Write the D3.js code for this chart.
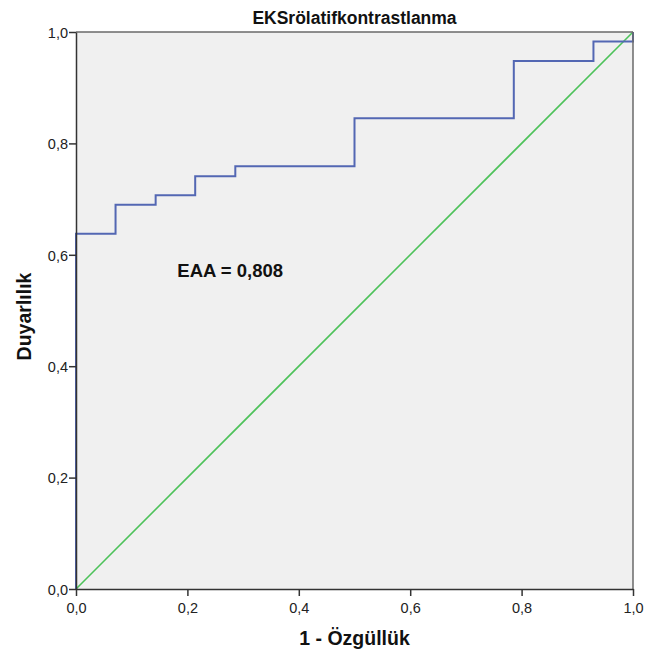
<!DOCTYPE html>
<html>
<head>
<meta charset="utf-8">
<script src="https://cdn.jsdelivr.net/npm/d3@7"></script>
<style>
  body { margin: 0; background: #fff; }
  text { font-family: "Liberation Sans", Arial, sans-serif; }
</style>
</head>
<body>
<div id="chart"></div>
<script>
// ROC curve data
const fpr = [0, 0, 0.071, 0.143, 0.214, 0.286, 0.5, 0.786, 0.929, 1];
const tpr = [0, 0.638, 0.690, 0.707, 0.741, 0.759, 0.845, 0.948, 0.983, 1];
const refX = [0, 1];
const refY = [0, 1];
const xTicks = [0, 0.2, 0.4, 0.6, 0.8, 1.0];
const yTicks = [0, 0.2, 0.4, 0.6, 0.8, 1.0];
const title = "EKSrölatifkontrastlanma";
const xTitle = "1 - Özgüllük";
const yTitle = "Duyarlılık";
const aucLabel = "EAA = 0,808";
const aucPos = [0.182, 0.56];

const W = 646, H = 662;
const margin = { top: 32, right: 13, bottom: 73, left: 76 };
const width = W - margin.left - margin.right;
const height = H - margin.top - margin.bottom;

const svg = d3.select("#chart").append("svg")
  .attr("width", W)
  .attr("height", H);

const g = svg.append("g")
  .attr("transform", "translate(" + margin.left + "," + margin.top + ")");

const x = d3.scaleLinear().domain([0, 1]).range([0, width]);
const y = d3.scaleLinear().domain([0, 1]).range([height, 0]);
const fmt = d => d3.format(".1f")(d).replace(".", ",");

g.append("rect")
  .attr("width", width)
  .attr("height", height)
  .attr("fill", "#f0f0f0");

// diagonal reference line
const ref = refX.map((v, i) => [v, refY[i]]);
g.append("path")
  .datum(ref)
  .attr("fill", "none")
  .attr("stroke", "#4dc25a")
  .attr("stroke-width", 1.6)
  .attr("d", d3.line().x(d => x(d[0])).y(d => y(d[1])));

// step curve
const roc = fpr.map((v, i) => [v, tpr[i]]);
g.append("path")
  .datum(roc)
  .attr("fill", "none")
  .attr("stroke", "#5367b3")
  .attr("stroke-width", 2)
  .attr("d", d3.line().curve(d3.curveStepAfter).x(d => x(d[0])).y(d => y(d[1])));

// frame top / right
g.append("line").attr("x1", 0).attr("x2", width).attr("y1", 0).attr("y2", 0)
  .attr("stroke", "#6a6a6a").attr("stroke-width", 1.5);
g.append("line").attr("x1", width).attr("x2", width).attr("y1", 0).attr("y2", height)
  .attr("stroke", "#6a6a6a").attr("stroke-width", 1.5);

const xAxis = g.append("g")
  .attr("transform", "translate(0," + height + ")")
  .call(d3.axisBottom(x).tickValues(xTicks).tickFormat(fmt).tickSize(7).tickSizeOuter(0));
const yAxis = g.append("g")
  .call(d3.axisLeft(y).tickValues(yTicks).tickFormat(fmt).tickSize(7).tickSizeOuter(0));

[xAxis, yAxis].forEach(a => {
  a.attr("font-size", null);
  a.select(".domain").attr("stroke", "#333").attr("stroke-width", 1.5);
  a.selectAll(".tick line").attr("stroke", "#333").attr("stroke-width", 1.5);
  a.selectAll(".tick text")
    .attr("fill", "#222")
    .attr("font-size", "14.5px")
    .style("font-family", "'Liberation Sans', Arial, sans-serif");
});
xAxis.selectAll(".tick text").attr("dy", "0").attr("y", 24);
yAxis.selectAll(".tick text").attr("x", -8).attr("dy", "0.36em");

g.append("text")
  .attr("x", x(aucPos[0]))
  .attr("y", y(aucPos[1]))
  .attr("font-size", "18.5px")
  .attr("font-weight", "bold")
  .attr("fill", "#111")
  .text(aucLabel);

svg.append("text")
  .attr("x", margin.left + width / 2)
  .attr("y", 24)
  .attr("text-anchor", "middle")
  .attr("font-size", "17.5px")
  .attr("font-weight", "bold")
  .attr("fill", "#111")
  .text(title);

svg.append("text")
  .attr("x", margin.left + width / 2)
  .attr("y", 645)
  .attr("text-anchor", "middle")
  .attr("font-size", "19.5px")
  .attr("font-weight", "bold")
  .attr("fill", "#111")
  .text(xTitle);

svg.append("text")
  .attr("transform", "translate(31," + (margin.top + height / 2 + 6) + ") rotate(-90)")
  .attr("text-anchor", "middle")
  .attr("font-size", "19.5px")
  .attr("font-weight", "bold")
  .attr("fill", "#111")
  .text(yTitle);
</script>
</body>
</html>
